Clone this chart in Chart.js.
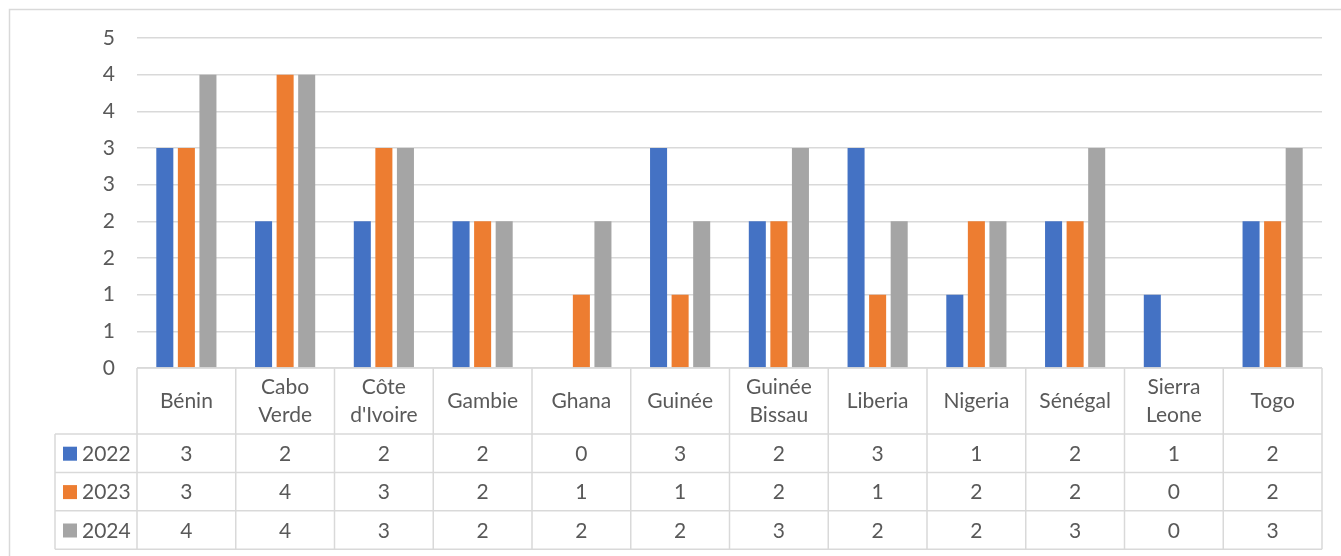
<!DOCTYPE html>
<html>
<head>
<meta charset="utf-8">
<script src="https://cdn.jsdelivr.net/npm/chart.js@4/dist/chart.umd.min.js"></script>
<style>
html,body{margin:0;padding:0;background:#fff;}
#wrap{width:1341px;height:556px;position:relative;}
</style>
</head>
<body>
<div id="wrap"><canvas id="c" width="1341" height="556"></canvas></div>
<script>
const categories = ["Bénin", "Cabo Verde", "Côte d'Ivoire", "Gambie", "Ghana", "Guinée", "Guinée Bissau", "Liberia", "Nigeria", "Sénégal", "Sierra Leone", "Togo"];
const headerLabels = [["Bénin"], ["Cabo", "Verde"], ["Côte", "d'Ivoire"], ["Gambie"], ["Ghana"], ["Guinée"], ["Guinée", "Bissau"], ["Liberia"], ["Nigeria"], ["Sénégal"], ["Sierra", "Leone"], ["Togo"]];
const seriesNames = ["2022", "2023", "2024"];
const values2022 = [3, 2, 2, 2, 0, 3, 2, 3, 1, 2, 1, 2];
const values2023 = [3, 4, 3, 2, 1, 1, 2, 1, 2, 2, 0, 2];
const values2024 = [4, 4, 3, 2, 2, 2, 3, 2, 2, 3, 0, 3];
const colors = ["#4472C4", "#ED7D31", "#A5A5A5"];

const FONT = "Lato, 'Open Sans', sans-serif";
const TXT = "#595959";
const LINE = "#D9D9D9";

const tablePlugin = {
  id: 'tablePlugin',
  beforeDraw(chart) {
    const ctx = chart.ctx;
    ctx.save();
    ctx.fillStyle = '#fff';
    ctx.fillRect(0, 0, chart.width, chart.height);
    ctx.strokeStyle = LINE;
    ctx.lineWidth = 1.5;
    ctx.strokeRect(9.5, 9.5, chart.width + 20, chart.height + 20);
    ctx.restore();
  },
  afterDraw(chart) {
    const ctx = chart.ctx;
    const xs = chart.scales.x;
    const area = chart.chartArea;
    const n = categories.length;
    const cw = (xs.right - xs.left) / n;
    const top = area.bottom;
    const headerH = 66;
    const rowH = 38.4;
    const legendLeft = 55;
    const bottom = top + headerH + rowH * 3;
    ctx.save();
    ctx.strokeStyle = LINE;
    ctx.lineWidth = 1.5;
    ctx.beginPath();
    ctx.moveTo(xs.left, top); ctx.lineTo(xs.right, top);
    for (let r = 0; r <= 3; r++) {
      const y = top + headerH + r * rowH;
      ctx.moveTo(legendLeft, y); ctx.lineTo(xs.right, y);
    }
    for (let i = 0; i <= n; i++) {
      const x = xs.left + i * cw;
      ctx.moveTo(x, top); ctx.lineTo(x, bottom);
    }
    ctx.moveTo(legendLeft, top + headerH); ctx.lineTo(legendLeft, bottom);
    ctx.stroke();

    ctx.fillStyle = TXT;
    ctx.font = "21px " + FONT;
    ctx.textAlign = 'center';
    ctx.textBaseline = 'middle';
    const lh = 28;
    for (let i = 0; i < n; i++) {
      const cx = xs.getPixelForValue(i);
      const lines = headerLabels[i];
      const cy = top + headerH / 2;
      lines.forEach((t, k) => {
        ctx.fillText(t, cx, cy + (k - (lines.length - 1) / 2) * lh);
      });
    }
    chart.data.datasets.forEach((ds, r) => {
      const cy = top + headerH + r * rowH + rowH / 2;
      ds.data.forEach((v, i) => {
        ctx.fillStyle = TXT;
        ctx.fillText(String(v), xs.getPixelForValue(i), cy + 1);
      });
      ctx.fillStyle = ds.backgroundColor;
      ctx.fillRect(63, cy - 6.5, 14, 14);
      ctx.fillStyle = TXT;
      ctx.textAlign = 'left';
      ctx.fillText(ds.label, 82, cy + 1);
      ctx.textAlign = 'center';
    });
    ctx.restore();
  }
};

new Chart(document.getElementById('c'), {
  type: 'bar',
  data: {
    labels: categories,
    datasets: [
      { label: seriesNames[0], data: values2022, backgroundColor: colors[0] },
      { label: seriesNames[1], data: values2023, backgroundColor: colors[1] },
      { label: seriesNames[2], data: values2024, backgroundColor: colors[2] }
    ]
  },
  options: {
    responsive: false,
    animation: false,
    devicePixelRatio: 1,
    layout: { padding: { left: 0, right: 19, top: 38, bottom: 0 } },
    datasets: { bar: { categoryPercentage: 0.655, barPercentage: 0.79 } },
    plugins: { legend: { display: false }, tooltip: { enabled: false } },
    scales: {
      x: {
        grid: { display: false },
        border: { display: false },
        ticks: { display: false },
        afterFit(s) { s.height = 188; }
      },
      y: {
        min: 0, max: 4.5,
        afterFit(s) { s.width = 137; },
        grid: { color: LINE, lineWidth: 1.5, drawTicks: false },
        border: { display: false },
        ticks: {
          stepSize: 0.5,
          padding: 22,
          color: TXT,
          font: { family: FONT, size: 21 },
          callback: v => Math.round(v)
        }
      }
    }
  },
  plugins: [tablePlugin]
});
</script>
</body>
</html>
